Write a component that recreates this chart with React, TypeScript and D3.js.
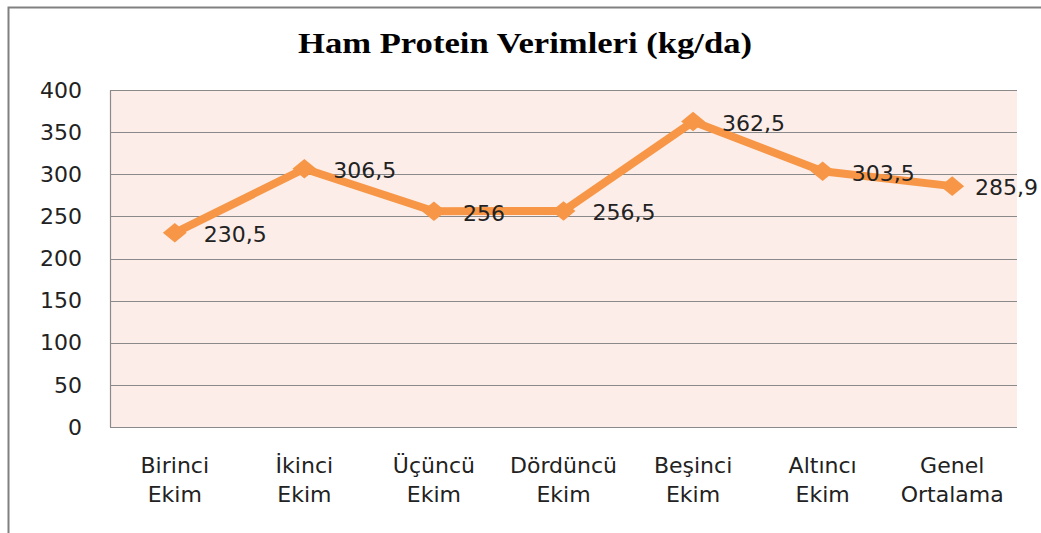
import React from "react";
import * as d3 from "d3";

const title = "Ham Protein Verimleri (kg/da)";
const categories = [
  ["Birinci", "Ekim"],
  ["İkinci", "Ekim"],
  ["Üçüncü", "Ekim"],
  ["Dördüncü", "Ekim"],
  ["Beşinci", "Ekim"],
  ["Altıncı", "Ekim"],
  ["Genel", "Ortalama"],
];
const values = [230.5, 306.5, 256, 256.5, 362.5, 303.5, 285.9];
const valueLabels = ["230,5", "306,5", "256", "256,5", "362,5", "303,5", "285,9"];
const yTicks = [0, 50, 100, 150, 200, 250, 300, 350, 400];

const W = 1041;
const H = 533;
const plot = { left: 110, top: 90, right: 1017, bottom: 427 };
const font = "'DejaVu Sans', 'Open Sans', sans-serif";
const orange = "#F79646";
const labelSize = 22;

function estWidth(s: string) {
  let w = 0;
  for (const ch of s) w += ch === "," ? 0.318 : 0.636;
  return w * labelSize;
}

export default function App() {
  const x = d3
    .scaleBand<number>()
    .domain(d3.range(categories.length))
    .range([plot.left, plot.right]);
  const y = d3.scaleLinear().domain([0, 400]).range([plot.bottom, plot.top]);
  const cx = (i: number) => (x(i) as number) + x.bandwidth() / 2;
  const line = d3
    .line<number>()
    .x((_, i) => cx(i))
    .y((d) => y(d));
  const diamond = d3.symbol().type(d3.symbolDiamond2).size(300)();

  return (
    <svg
      width={W}
      height={H}
      style={{ position: "absolute", left: 0, top: 0, background: "#fff" }}
    >
      <rect x={8.5} y={7.5} width={W + 10} height={H + 10} fill="#fff" stroke="#808080" strokeWidth={2} />
      <text
        x={525}
        y={53}
        textAnchor="middle"
        fontFamily="'Liberation Serif', 'DejaVu Serif', serif"
        fontWeight="bold"
        fontSize={30}
        textLength={454}
        lengthAdjust="spacingAndGlyphs"
        fill="#000"
      >
        {title}
      </text>
      <rect
        x={plot.left}
        y={plot.top}
        width={plot.right - plot.left}
        height={plot.bottom - plot.top}
        fill="#FCEDE8"
      />
      {yTicks.map((t) => (
        <g key={t}>
          <line
            x1={plot.left}
            x2={plot.right}
            y1={Math.round(y(t)) + 0.5}
            y2={Math.round(y(t)) + 0.5}
            stroke="#8a8a8a"
            strokeWidth={1.2}
          />
          <text
            x={82}
            y={y(t)}
            dy="0.35em"
            textAnchor="end"
            fontFamily={font}
            fontSize={22}
            fill="#222"
          >
            {t}
          </text>
        </g>
      ))}
      <line x1={plot.left + 0.5} x2={plot.left + 0.5} y1={plot.top} y2={plot.bottom} stroke="#8a8a8a" strokeWidth={1.2} />
      {categories.map((c, i) => (
        <text key={i} textAnchor="middle" fontFamily={font} fontSize={22} fill="#222">
          <tspan x={cx(i)} y={473}>{c[0]}</tspan>
          <tspan x={cx(i)} y={502}>{c[1]}</tspan>
        </text>
      ))}
      <path
        d={line(values) as string}
        fill="none"
        stroke={orange}
        strokeWidth={8}
        strokeLinejoin="round"
      />
      {values.map((v, i) => (
        <path
          key={i}
          d={diamond as string}
          transform={`translate(${cx(i)},${y(v)}) scale(1.1,0.9)`}
          fill={orange}
        />
      ))}
      {values.map((v, i) => {
        const s = valueLabels[i];
        const start = cx(i) + 29;
        const overflow = start + estWidth(s) > W - 3;
        return (
          <text
            key={i}
            x={overflow ? W - 3 : start}
            y={y(v) + 1}
            dy="0.38em"
            textAnchor={overflow ? "end" : "start"}
            fontFamily={font}
            fontSize={labelSize}
            fill="#222"
          >
            {s}
          </text>
        );
      })}
    </svg>
  );
}
